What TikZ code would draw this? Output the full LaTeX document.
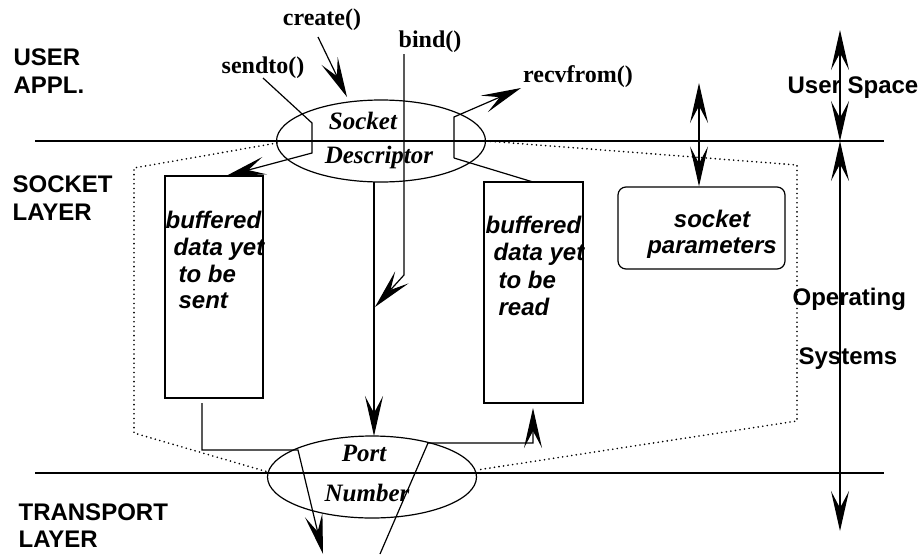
\documentclass[tikz,border=0pt]{standalone}
\usepackage{fontspec}
\setmainfont{Liberation Serif}
\setsansfont{Liberation Sans}
\usetikzlibrary{arrows.meta,shapes.geometric}

\tikzset{
  headtip/.tip={Stealth[length=40pt,width=18pt,inset=17pt]}
}

\begin{document}
\begin{tikzpicture}[x=1pt,y=-1pt,line width=1.2pt,
  onearrow/.style={-headtip},
  twoarrow/.style={headtip-headtip},
  layertext/.style={font=\sffamily\bfseries\fontsize{24}{26}\selectfont,anchor=base west,inner sep=0pt},
  calltext/.style={font=\rmfamily\bfseries\fontsize{24}{26}\selectfont,anchor=base,inner sep=0pt},
  ovaltext/.style={font=\rmfamily\bfseries\itshape\fontsize{25}{26}\selectfont,anchor=base,inner sep=0pt},
  buftext/.style={font=\sffamily\bfseries\itshape\fontsize{24}{26}\selectfont,anchor=base west,inner sep=0pt},
  oval/.style={draw,ellipse,minimum width=209pt,minimum height=82pt,inner sep=0pt},
  bufbox/.style={draw,minimum width=98pt,minimum height=222pt,inner sep=0pt},
  region/.style={line width=1.8pt,line cap=round,dash pattern=on 0pt off 4.6pt}
]
\useasboundingbox (0,0) rectangle (920,557);

% layer boundaries
\coordinate (topL) at (35,141);  \coordinate (topR) at (884,141);
\coordinate (botL) at (35,473);  \coordinate (botR) at (884,473);
\draw (topL) -- (topR);
\draw (botL) -- (botR);

% layer names
\node[layertext] (userA) at (13,65) {USER};
\node[layertext] (userB) at (13,93) {APPL.};
\node[layertext] (sockA) at (12,192) {SOCKET};
\node[layertext] (sockB) at (12,220) {LAYER};
\node[layertext] (tranA) at (18,520) {TRANSPORT};
\node[layertext] (tranB) at (18,547) {LAYER};

% socket descriptor and port number
\node[oval] (sock) at (381,141) {};
\node[ovaltext] (sockT) at (363,129) {Socket};
\node[ovaltext] (sockD) at (379,163) {Descriptor};
\node[oval] (port) at (372,477) {};
\node[ovaltext] (portT) at (364,461) {Port};
\node[ovaltext] (portN) at (367,501) {Number};

% buffers
\node[bufbox] (sendbuf) at (214,287) {};
\node[buftext] (s1) at (165,228) {buffered};
\node[buftext] (s2) at (173,255) {data yet};
\node[buftext] (s3) at (178,282) {to be};
\node[buftext] (s4) at (178,308) {sent};

\node[bufbox,minimum width=99pt,minimum height=221pt] (readbuf) at (533.5,292.5) {};
\node[buftext] (r1) at (485,233) {buffered};
\node[buftext] (r2) at (493,260) {data yet};
\node[buftext] (r3) at (498,288) {to be};
\node[buftext] (r4) at (498,315) {read};

% socket parameters
\node[draw,rounded corners=8pt,minimum width=167pt,minimum height=82pt,inner sep=0pt] (param) at (701.5,228) {};
\node[buftext,anchor=base] (p1) at (712,227) {socket};
\node[buftext,anchor=base] (p2) at (712,253) {parameters};

% calls
\node[calltext] (create) at (322,25) {create()};
\node[calltext] (bind) at (430,47) {bind()};
\node[calltext] (sendto) at (263,73) {sendto()};
\node[calltext] (recv) at (578,82) {recvfrom()};

% side labels
\node[layertext] (uspace) at (787,93) {User Space};
\node[layertext] (opA) at (792,305) {Operating};
\node[layertext] (opB) at (798,364) {Systems};

% operating system region
\draw[region] (277,143) -- (134,168) -- (134,433) -- (268,472);
\draw[region] (486,141) -- (797,165) -- (797,421) -- (477,470);

% create()
\coordinate (cA) at (318,37); \coordinate (cB) at (347,97);
\draw[onearrow] (cA) -- (cB);

% sendto()
\coordinate (sdA) at (263,78); \coordinate (sdB) at (312,123);
\coordinate (sdC) at (312,153); \coordinate (sdD) at (226,176);
\draw[onearrow] (sdA) -- (sdB) -- (sdC) -- (sdD);

% bind()
\coordinate (bA) at (404,54); \coordinate (bB) at (404,275); \coordinate (bC) at (375,307);
\draw[onearrow] (bA) -- (bB) -- (bC);

% descriptor to port
\coordinate (dA) at (374,182); \coordinate (dB) at (374,436);
\draw[onearrow] (dA) -- (dB);

% recvfrom()
\coordinate (rvA) at (454,158); \coordinate (rvB) at (454,117);
\coordinate (rvC) at (521,88); \coordinate (rvD) at (533,182);
\draw[onearrow] (rvA) -- (rvB) -- (rvC);
\draw (rvA) -- (rvD);

% outgoing data
\coordinate (oA) at (202,403); \coordinate (oB) at (202,450);
\coordinate (oC) at (298,450); \coordinate (oD) at (323,554);
\draw[onearrow] (oA) -- (oB) -- (oC) -- (oD);

% incoming data
\coordinate (iA) at (380,554); \coordinate (iB) at (428,443);
\coordinate (iC) at (533,443); \coordinate (iD) at (533,408);
\draw[onearrow] (iA) -- (iB) -- (iC) -- (iD);

% parameter access
\coordinate (pA) at (699,83);
\draw[twoarrow] (pA) -- (param.north -| pA);

% user space / operating system extents
\coordinate (vA) at (840,30); \coordinate (vB) at (840,141); \coordinate (vC) at (840,531);
\draw[twoarrow] (vA) -- (vB);
\draw[twoarrow] (vB) -- (vC);
\end{tikzpicture}
\end{document}
